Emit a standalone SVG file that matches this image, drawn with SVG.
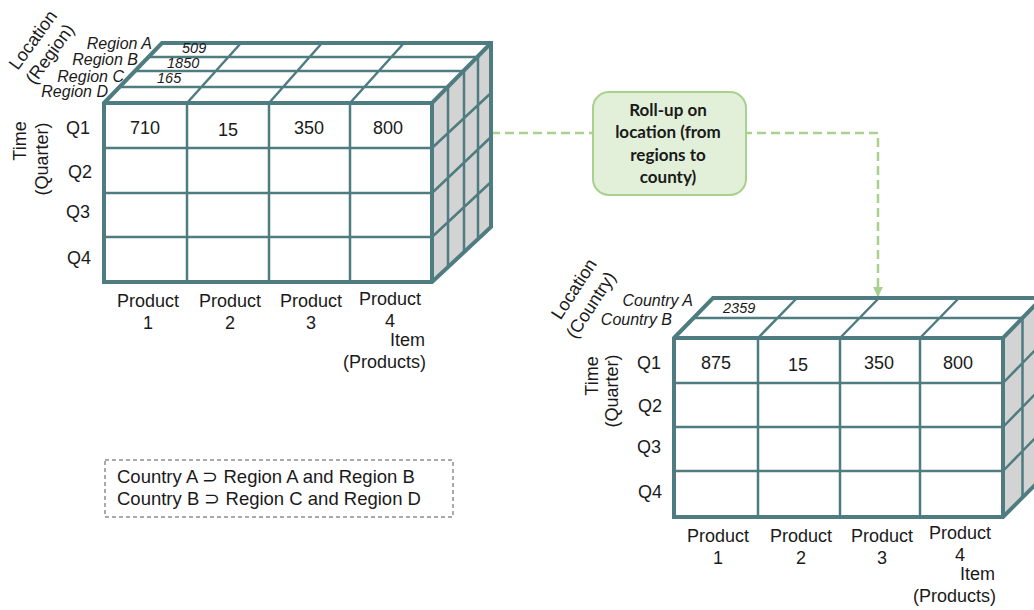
<svg xmlns="http://www.w3.org/2000/svg" width="1034" height="610" viewBox="0 0 1034 610">
  <style>
    .face { fill: #ffffff; }
    .side { fill: #d3d3d3; }
    .edge { fill: none; stroke: #4f7c80; stroke-width: 4; stroke-linejoin: miter; }
    .grid { fill: none; stroke: #4f7c80; stroke-width: 2.5; }
    .lbl { font-family: "Liberation Sans", Arial, sans-serif; font-size: 18px; fill: #1a1a1a; }
    .it { font-family: "Liberation Sans", Arial, sans-serif; font-size: 16px; font-style: italic; fill: #1a1a1a; }
    .val { font-family: "Liberation Sans", Arial, sans-serif; font-size: 14.5px; font-style: italic; fill: #1a1a1a; }
    .mid { text-anchor: middle; }
    .end { text-anchor: end; }
    .flow { fill: none; stroke: #a9d18e; stroke-width: 2.5; stroke-dasharray: 9 5; }
    .callout { fill: #e2efd9; stroke: #a9d18e; stroke-width: 2; }
    .callout-text { font-family: Lato, "Liberation Sans", sans-serif; font-weight: bold; font-size: 17px; fill: #1a1a1a; text-anchor: middle; }
    .legend { fill: #ffffff; stroke: #555555; stroke-width: 1; stroke-dasharray: 4 3; }
    .note { font-family: "Liberation Sans", Arial, sans-serif; font-size: 18.5px; fill: #1a1a1a; }
  </style>
  <defs>
    <marker id="arrow" markerUnits="userSpaceOnUse" markerWidth="10" markerHeight="10" viewBox="0 0 10 10" refX="10" refY="5" orient="auto">
      <path d="M0,0 L10,5 L0,10 z" fill="#a9d18e"/>
    </marker>
  </defs>

  <!-- connectors: roll-up flow from the region cube to the country cube -->
  <g id="connectors">
    <path class="flow" d="M491,133 H878 V297" marker-end="url(#arrow)"/>
  </g>

  <!-- cube by region -->
  <g id="cube-region">
    <polygon class="side" points="432,103 491,43 491,227 432,282"/>
    <polygon class="face" points="104,103 162,43 491,43 432,103"/>
    <rect class="face" x="104" y="103" width="328" height="179"/>
    <!-- front grid -->
    <path class="grid" d="M187,103 V282 M269,103 V282 M350,103 V282 M104,148 H432 M104,193 H432 M104,237 H432"/>
    <!-- top grid -->
    <path class="grid" d="M119.5,87 H448 M135,71 H464 M148.5,57 H478 M187,103 L241,43 M269,103 L322,43 M350,103 L404,43"/>
    <!-- side grid -->
    <path class="grid" d="M448,87 V267 M464,71 V253 M478,57 V240 M432,148 L491,93 M432,193 L491,137 M432,237 L491,182"/>
    <!-- outline -->
    <path class="edge" d="M104,103 L162,43 H491 V227 L432,282 H104 Z M104,103 H432 L491,43 M432,103 V282"/>
    <!-- axis labels -->
    <text class="lbl mid" transform="translate(33,40) rotate(-54)" y="6">Location</text>
    <text class="lbl mid" transform="translate(50,54) rotate(-54)" y="6">(Region)</text>
    <text class="it end" x="152" y="49">Region A</text>
    <text class="it end" x="138" y="65">Region B</text>
    <text class="it end" x="124" y="82">Region C</text>
    <text class="it end" x="108" y="97">Region D</text>
    <text class="val" x="182" y="53">509</text>
    <text class="val" x="167" y="68">1850</text>
    <text class="val" x="157" y="83">165</text>
    <text class="lbl mid" transform="translate(26,141) rotate(-90)">Time</text>
    <text class="lbl mid" transform="translate(48,159) rotate(-90)">(Quarter)</text>
    <text class="lbl" x="66" y="134">Q1</text>
    <text class="lbl" x="68" y="178">Q2</text>
    <text class="lbl" x="66" y="218">Q3</text>
    <text class="lbl" x="67" y="264">Q4</text>
    <text class="lbl mid" x="145" y="134">710</text>
    <text class="lbl mid" x="228" y="136">15</text>
    <text class="lbl mid" x="309" y="134">350</text>
    <text class="lbl mid" x="388" y="134">800</text>
    <text class="lbl mid" x="148" y="307">Product</text>
    <text class="lbl mid" x="148" y="329">1</text>
    <text class="lbl mid" x="230" y="307">Product</text>
    <text class="lbl mid" x="230" y="329">2</text>
    <text class="lbl mid" x="311" y="307">Product</text>
    <text class="lbl mid" x="311" y="329">3</text>
    <text class="lbl mid" x="390" y="305">Product</text>
    <text class="lbl mid" x="390" y="327">4</text>
    <text class="lbl end" x="425" y="346">Item</text>
    <text class="lbl end" x="426" y="368">(Products)</text>
  </g>

  <!-- roll-up operation -->
  <g id="rollup-box">
    <rect class="callout" x="593" y="92" width="153" height="103" rx="16" ry="16"/>
    <text class="callout-text" x="668" y="116">Roll-up on</text>
    <text class="callout-text" x="668" y="138">location (from</text>
    <text class="callout-text" x="668" y="161">regions to</text>
    <text class="callout-text" x="668" y="183">county)</text>
  </g>

  <!-- cube by country -->
  <g id="cube-country">
    <polygon class="side" points="1003,338 1042,298 1042,478 1003,517"/>
    <polygon class="face" points="674,338 713,298 1042,298 1003,338"/>
    <rect class="face" x="674" y="338" width="329" height="179"/>
    <path class="grid" d="M758,338 V517 M840,338 V517 M920,338 V517 M674,383 H1003 M674,427 H1003 M674,471 H1003"/>
    <path class="grid" d="M693.5,318 H1022.5 M758,338 L797,298 M840,338 L879,298 M920,338 L959,298"/>
    <path class="grid" d="M1022.5,318 V497 M1003,383 L1042,343 M1003,427 L1042,387 M1003,471 L1042,431"/>
    <path class="edge" d="M674,338 L713,298 H1042 V478 L1003,517 H674 Z M674,338 H1003 L1042,298 M1003,338 V517"/>
    <text class="lbl mid" transform="translate(574,289) rotate(-57)" y="6">Location</text>
    <text class="lbl mid" transform="translate(591,305) rotate(-57)" y="6">(Country)</text>
    <text class="it end" x="693" y="306">Country A</text>
    <text class="it end" x="672" y="325">Country B</text>
    <text class="val" x="723" y="313">2359</text>
    <text class="lbl mid" transform="translate(598,376) rotate(-90)">Time</text>
    <text class="lbl mid" transform="translate(618,391) rotate(-90)">(Quarter)</text>
    <text class="lbl" x="637" y="369">Q1</text>
    <text class="lbl" x="638" y="412">Q2</text>
    <text class="lbl" x="637" y="453">Q3</text>
    <text class="lbl" x="638" y="498">Q4</text>
    <text class="lbl mid" x="716" y="369">875</text>
    <text class="lbl mid" x="798" y="371">15</text>
    <text class="lbl mid" x="879" y="369">350</text>
    <text class="lbl mid" x="958" y="369">800</text>
    <text class="lbl mid" x="718" y="542">Product</text>
    <text class="lbl mid" x="718" y="564">1</text>
    <text class="lbl mid" x="801" y="542">Product</text>
    <text class="lbl mid" x="801" y="564">2</text>
    <text class="lbl mid" x="882" y="542">Product</text>
    <text class="lbl mid" x="882" y="564">3</text>
    <text class="lbl mid" x="960" y="539">Product</text>
    <text class="lbl mid" x="960" y="561">4</text>
    <text class="lbl end" x="995" y="580">Item</text>
    <text class="lbl end" x="996" y="602">(Products)</text>
  </g>

  <!-- hierarchy note -->
  <g id="legend-box">
    <rect class="legend" x="105" y="460" width="348" height="57"/>
    <text class="note" x="117" y="483">Country A ⊃ Region A and Region B</text>
    <text class="note" x="117" y="505">Country B ⊃ Region C and Region D</text>
  </g>
</svg>
